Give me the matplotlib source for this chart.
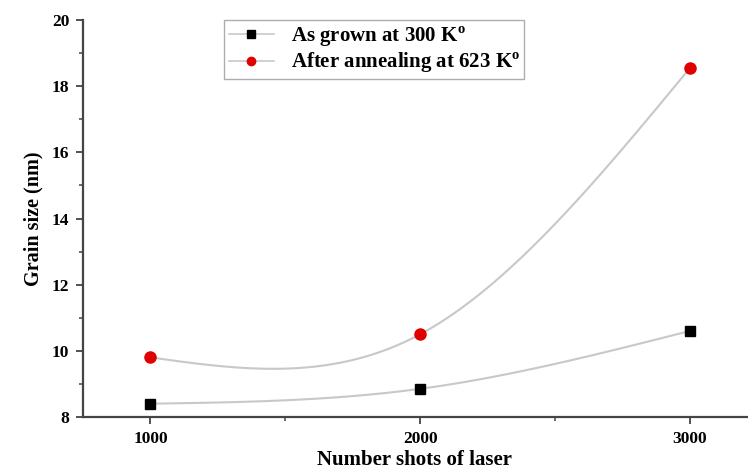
import numpy as np
import matplotlib.pyplot as plt
from matplotlib.ticker import MultipleLocator

shots = [1000, 2000, 3000]
as_grown = [8.4, 8.85, 10.6]
annealed = [9.8, 10.5, 18.55]
labels = ['As grown at 300 K$^{\\mathrm{o}}$', 'After annealing at 623 K$^{\\mathrm{o}}$']


def natural_spline(x, y, n=200):
    # natural cubic spline, like Origin's spline connector
    x = np.asarray(x, float)
    y = np.asarray(y, float)
    k = len(x)
    h = np.diff(x)
    A = np.zeros((k, k))
    r = np.zeros(k)
    A[0, 0] = A[-1, -1] = 1
    for i in range(1, k - 1):
        A[i, i - 1] = h[i - 1]
        A[i, i] = 2 * (h[i - 1] + h[i])
        A[i, i + 1] = h[i]
        r[i] = 6 * ((y[i + 1] - y[i]) / h[i] - (y[i] - y[i - 1]) / h[i - 1])
    M = np.linalg.solve(A, r)
    xs = np.linspace(x[0], x[-1], n)
    ys = np.empty_like(xs)
    for j, xv in enumerate(xs):
        i = min(np.searchsorted(x, xv, side='right') - 1, k - 2)
        a = (x[i + 1] - xv) / h[i]
        b = (xv - x[i]) / h[i]
        ys[j] = (a * y[i] + b * y[i + 1]
                 + ((a ** 3 - a) * M[i] + (b ** 3 - b) * M[i + 1]) * h[i] ** 2 / 6)
    return xs, ys


plt.rcParams['font.family'] = ['Liberation Serif', 'DejaVu Serif']
plt.rcParams['font.weight'] = 'bold'
plt.rcParams['mathtext.fontset'] = 'custom'
plt.rcParams['mathtext.rm'] = 'Liberation Serif:bold'

fig = plt.figure(figsize=(7.48, 4.69), dpi=100)
ax = fig.add_axes([0.111, 0.111, 0.887, 0.846])

line_col = '#c8c8c8'
for yv, mk, ms, fc, lab in [(as_grown, 's', 7, 'black', labels[0]),
                            (annealed, 'o', 8, '#e00000', labels[1])]:
    xs, ys = natural_spline(shots, yv)
    ax.plot(xs, ys, color=line_col, lw=1.5, zorder=1)
    ax.plot(shots, yv, linestyle='none', marker=mk, markersize=ms,
            color=fc, zorder=3)
    # legend handle: marker on a short grey line
    ax.plot([], [], color=line_col, lw=1.2, marker=mk, markersize=6,
            markerfacecolor=fc, markeredgecolor=fc, label=lab)

ax.set_xlim(750, 3210)
ax.set_ylim(8, 20)
ax.xaxis.set_major_locator(MultipleLocator(1000))
ax.xaxis.set_minor_locator(MultipleLocator(500))
ax.yaxis.set_major_locator(MultipleLocator(2))
ax.yaxis.set_minor_locator(MultipleLocator(1))

for s in ['top', 'right']:
    ax.spines[s].set_visible(False)
for s in ['left', 'bottom']:
    ax.spines[s].set_color('#444444')
    ax.spines[s].set_linewidth(1.6)

ax.tick_params(which='major', direction='out', length=5, width=1.3,
               color='#444444', labelsize=12.5, pad=5)
ax.tick_params(which='minor', direction='out', length=3, width=1.1,
               color='#444444')

ax.set_xlabel('Number shots of laser', fontsize=15, fontweight='bold', labelpad=2)
ax.set_ylabel('Grain size (nm)', fontsize=14.5, fontweight='bold', labelpad=6)

leg = ax.legend(loc='upper left', bbox_to_anchor=(0.213, 1.0), fontsize=15,
                frameon=True, fancybox=False, edgecolor='#999999',
                handlelength=2.2, borderpad=0.2, labelspacing=0.1,
                borderaxespad=0)
leg.get_frame().set_linewidth(1.0)

fig.savefig('out.png', dpi=100)
